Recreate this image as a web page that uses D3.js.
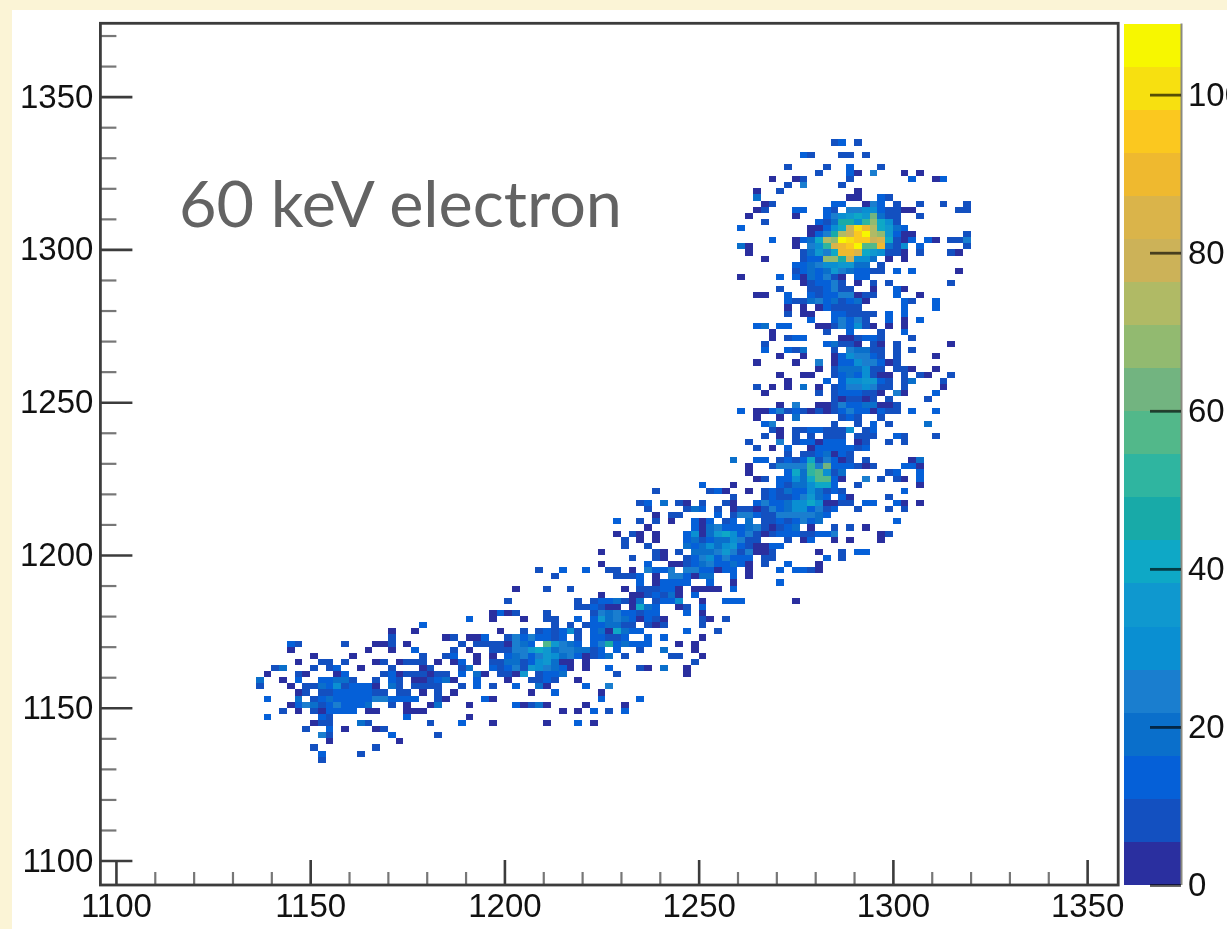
<!DOCTYPE html>
<html>
<head>
<meta charset="utf-8">
<script src="https://cdnjs.cloudflare.com/ajax/libs/d3/7.8.5/d3.min.js"></script>
<style>
html, body { margin: 0; padding: 0; background: #fbf4d6; overflow: hidden; }
#my_dataviz svg { display: block; }
.soft { filter: blur(0.55px); }
.cells rect { shape-rendering: crispEdges; }
.tick text, .label { font-family: "Liberation Sans", sans-serif; }
</style>
</head>
<body>
<div id="my_dataviz"></div>
<script>
// histogram bins, lower edge Y of each row
const rowY = [1334,1330,1326,1324,1322,1320,1318,1316,1314,1312,1310,1308,1306,1304,1302,1300,1298,1296,1294,1292,1290,1288,1286,1284,1282,1280,1278,1276,1274,1272,1270,1268,1266,1264,1262,1260,1258,1256,1254,1252,1250,1248,1246,1244,1242,1240,1238,1236,1234,1232,1230,1228,1226,1224,1222,1220,1218,1216,1214,1212,1210,1208,1206,1204,1202,1200,1198,1196,1194,1192,1190,1188,1186,1184,1182,1180,1178,1176,1174,1172,1170,1168,1166,1164,1162,1160,1158,1156,1154,1152,1150,1148,1146,1144,1142,1140,1138,1136,1134,1132];

// one list per row, read as pairs: lower edge X, counts
const rowCells = [
[1284,8,1286,13,1290,8],
[1276,13,1278,8,1286,8,1288,8,1292,8],
[1272,8,1282,8,1288,13,1296,8],
[1280,8,1288,13,1290,3,1294,24,1302,3,1306,3],
[1268,3,1274,3,1276,8,1288,8,1304,13,1310,3,1312,13],
[1272,8,1276,24,1286,8],
[1264,3,1270,8,1290,3],
[1264,19,1288,3,1290,3,1296,13,1298,8],
[1266,3,1268,8,1284,13,1286,13,1292,3,1294,24,1296,13,1300,8,1306,8,1312,8,1318,8],
[1264,3,1266,8,1274,13,1276,13,1282,13,1284,8,1288,24,1290,24,1292,30,1294,30,1296,13,1298,8,1300,8,1302,3,1304,3,1316,8,1318,8],
[1262,3,1274,3,1282,13,1284,24,1286,30,1288,35,1290,41,1292,35,1294,63,1296,19,1298,8,1300,8,1306,8],
[1266,8,1280,13,1282,8,1284,19,1286,46,1288,46,1290,30,1292,52,1294,68,1296,41,1298,30,1300,8],
[1260,13,1278,3,1280,3,1282,13,1284,30,1286,41,1288,79,1290,101,1292,90,1294,74,1296,41,1298,35,1300,19,1302,13],
[1278,3,1280,13,1282,24,1284,46,1286,74,1288,79,1290,95,1292,106,1294,74,1296,68,1298,35,1300,13,1302,3,1304,3,1318,8],
[1268,13,1274,3,1276,13,1278,19,1280,41,1282,74,1284,68,1286,106,1288,101,1290,95,1292,95,1294,79,1296,85,1298,41,1300,8,1302,3,1304,13,1308,13,1310,3,1314,8,1316,8,1318,24],
[1260,19,1262,3,1274,3,1278,24,1280,30,1282,52,1284,85,1286,90,1288,95,1290,106,1292,57,1294,57,1296,90,1298,19,1300,8,1302,30,1306,13,1318,8],
[1262,3,1276,8,1278,19,1280,35,1282,24,1284,41,1286,90,1288,90,1290,85,1292,41,1294,35,1296,30,1298,8,1300,8,1302,3,1306,8,1314,8,1316,3],
[1266,3,1276,8,1278,13,1280,13,1282,68,1284,68,1286,46,1288,79,1290,30,1292,30,1294,19,1298,3,1302,3],
[1274,13,1276,13,1278,19,1280,24,1282,30,1284,30,1286,35,1288,35,1290,19,1292,19,1296,8],
[1274,8,1276,13,1278,19,1280,13,1282,19,1284,35,1286,24,1288,19,1290,13,1292,13,1294,8,1296,8,1300,13,1304,13,1316,3],
[1260,3,1270,13,1274,13,1276,3,1278,19,1280,13,1282,24,1284,8,1286,3,1290,13,1292,13],
[1276,3,1278,8,1280,13,1282,13,1284,24,1286,8,1290,3,1294,8,1298,8,1314,8],
[1270,8,1278,8,1280,8,1282,13,1284,24,1286,8,1288,8,1294,3,1300,13,1302,3],
[1264,3,1266,3,1272,13,1278,13,1280,8,1282,13,1284,13,1286,24,1288,24,1290,3,1292,8,1294,8,1300,13,1306,3],
[1272,13,1274,8,1276,8,1278,19,1280,24,1282,13,1284,19,1286,8,1288,13,1290,19,1292,3,1302,13,1304,8,1310,13],
[1272,3,1276,3,1280,3,1282,13,1284,8,1286,8,1288,8,1290,8,1302,13,1310,13],
[1272,8,1276,3,1278,3,1284,13,1286,13,1288,8,1290,8,1292,8,1294,8,1298,13,1302,13],
[1278,13,1284,13,1286,24,1288,13,1290,24,1292,8,1298,13,1302,3,1306,13],
[1264,13,1266,19,1270,13,1272,13,1280,3,1282,3,1284,8,1286,24,1288,13,1290,30,1292,8,1294,3,1298,3,1302,3],
[1268,3,1282,8,1288,13,1296,8,1302,13],
[1268,3,1272,8,1274,13,1276,13,1286,3,1288,3,1290,8,1292,13,1294,13,1296,8,1304,8],
[1266,8,1282,13,1284,19,1286,8,1288,8,1290,3,1294,8,1296,3,1300,8,1314,3],
[1266,13,1272,13,1274,8,1276,19,1284,8,1288,24,1290,19,1292,19,1294,8,1296,8,1300,8,1304,8],
[1270,3,1276,3,1284,3,1286,13,1288,30,1290,24,1292,24,1294,13,1296,8,1300,8,1310,3],
[1264,3,1274,3,1280,24,1284,3,1286,13,1288,13,1290,30,1292,24,1294,24,1296,13,1298,3,1300,8],
[1280,3,1284,8,1286,19,1288,19,1290,19,1292,30,1294,8,1296,8,1300,8,1302,8,1304,3,1310,3],
[1270,3,1276,3,1278,3,1284,8,1286,13,1288,19,1290,13,1292,30,1294,8,1296,3,1298,3,1302,8,1306,8,1308,3,1314,8],
[1272,3,1282,13,1286,13,1288,30,1290,30,1292,35,1294,35,1296,13,1298,8,1302,8,1304,19,1312,8],
[1264,8,1268,3,1272,3,1276,19,1280,3,1284,8,1286,13,1288,24,1290,24,1292,30,1294,24,1296,8,1298,8,1302,8,1312,3],
[1266,3,1280,8,1284,8,1286,13,1288,13,1290,13,1292,8,1294,8,1296,3,1300,24,1302,3,1310,13],
[1284,8,1286,3,1288,8,1290,8,1292,3,1294,8,1298,8,1308,8],
[1270,3,1274,24,1280,3,1282,3,1284,8,1286,24,1288,13,1290,13,1292,19,1294,19,1296,3,1298,3,1300,8],
[1260,13,1264,3,1266,3,1268,13,1270,24,1272,8,1274,13,1276,8,1278,3,1280,8,1282,3,1284,8,1286,13,1288,24,1290,13,1292,13,1294,3,1296,13,1298,8,1300,8,1304,13,1310,13],
[1264,3,1270,3,1274,19,1286,8,1288,13,1290,8,1296,8],
[1266,13,1268,24,1284,8,1290,8,1294,13,1298,8,1308,19],
[1268,8,1270,3,1274,8,1276,8,1278,13,1280,13,1282,8,1284,8,1286,8,1288,30,1292,8,1294,13],
[1266,8,1270,3,1274,8,1278,8,1282,8,1284,8,1286,8,1290,8,1292,8,1294,8,1300,13,1302,8,1310,8],
[1262,8,1270,24,1274,8,1276,13,1278,13,1280,3,1282,13,1284,13,1286,13,1290,3,1292,8,1298,8,1302,8],
[1264,8,1268,3,1272,13,1278,3,1280,13,1282,13,1284,13,1286,13,1288,13,1290,8,1292,13],
[1272,8,1276,8,1278,8,1280,13,1282,19,1284,3,1286,13,1288,8],
[1258,19,1264,13,1266,13,1270,8,1272,13,1274,8,1276,13,1278,41,1280,8,1282,24,1284,13,1286,3,1288,8,1292,8,1304,3,1306,19],
[1262,3,1268,8,1270,24,1272,24,1274,24,1276,24,1278,52,1280,24,1282,63,1284,13,1286,13,1288,13,1290,8,1292,3,1294,8,1302,13,1304,13,1306,3],
[1262,3,1272,13,1274,41,1276,19,1278,52,1280,57,1282,30,1284,8,1286,19,1298,8,1300,13,1306,13],
[1264,3,1266,8,1270,13,1272,13,1274,30,1276,19,1278,41,1280,57,1282,57,1284,13,1286,3,1292,24,1296,8,1300,8,1302,3,1306,13],
[1250,13,1258,3,1270,13,1272,8,1274,19,1276,19,1278,30,1280,41,1282,41,1284,13,1290,8,1306,3],
[1238,8,1252,8,1254,13,1256,3,1262,3,1266,8,1268,13,1270,8,1272,19,1274,13,1276,13,1278,30,1280,19,1282,8,1284,13,1286,8,1302,13],
[1258,8,1266,8,1268,13,1270,8,1272,8,1274,13,1276,24,1278,35,1280,19,1282,13,1286,13,1288,3,1298,8],
[1234,8,1236,13,1240,19,1244,8,1246,3,1250,8,1256,8,1258,3,1264,13,1266,24,1268,13,1270,13,1272,19,1274,30,1276,30,1278,41,1280,30,1282,3,1284,3,1286,8,1288,8,1292,13,1294,13,1300,13,1302,3,1306,3],
[1236,8,1246,8,1248,19,1250,13,1254,8,1258,3,1260,8,1262,8,1264,3,1266,8,1268,24,1270,13,1272,19,1274,30,1276,30,1278,13,1280,24,1282,8,1284,13,1290,8,1298,8,1302,8],
[1238,3,1242,8,1244,8,1254,13,1258,8,1260,24,1262,24,1264,13,1266,8,1268,8,1270,24,1272,24,1274,24,1276,24,1278,24,1280,19,1282,13],
[1228,13,1234,8,1238,8,1242,3,1248,13,1250,3,1252,13,1256,8,1258,13,1262,19,1266,8,1268,8,1270,13,1272,8,1274,13,1276,24,1278,13,1280,19,1300,13],
[1236,3,1248,13,1250,3,1252,19,1254,24,1256,13,1258,13,1260,13,1262,19,1264,24,1266,8,1268,3,1270,8,1272,13,1274,19,1278,3,1284,8,1288,8,1292,3],
[1228,3,1232,8,1234,3,1238,3,1246,13,1248,30,1250,3,1252,19,1254,35,1256,41,1258,30,1260,13,1262,24,1264,8,1266,3,1268,8,1270,13,1272,13,1274,13,1276,8,1278,8,1280,13,1282,13,1284,24,1296,3,1298,8],
[1230,8,1234,3,1238,3,1246,13,1248,19,1250,8,1252,13,1254,19,1256,19,1258,30,1260,24,1262,8,1264,8,1272,8,1276,3,1278,13,1284,3,1288,3,1296,3],
[1230,8,1236,8,1246,19,1248,13,1250,19,1252,30,1254,19,1256,30,1258,35,1260,13,1262,8,1264,3,1266,3,1268,13,1270,13],
[1224,3,1238,8,1240,3,1244,8,1248,19,1250,19,1252,19,1254,24,1256,35,1258,24,1260,8,1262,24,1264,3,1266,3,1268,8,1280,3,1286,8,1290,13,1292,13],
[1232,8,1238,8,1240,3,1246,8,1248,13,1250,24,1252,30,1254,13,1256,24,1258,13,1260,13,1262,13,1266,8,1268,8,1282,13,1286,8],
[1224,3,1236,13,1242,3,1244,3,1246,8,1248,13,1250,19,1252,24,1254,13,1256,13,1258,19,1260,13,1262,3,1266,8,1272,13,1280,3],
[1208,8,1214,13,1220,13,1226,8,1228,8,1232,3,1236,24,1238,13,1240,13,1242,24,1246,24,1248,24,1250,13,1252,13,1254,3,1256,13,1258,13,1262,3,1270,13,1274,13,1276,13,1278,8,1280,3],
[1212,8,1228,8,1230,8,1232,8,1234,13,1238,3,1242,24,1244,24,1246,13,1248,3,1250,19,1252,19,1258,13,1262,3],
[1234,13,1238,3,1240,13,1242,13,1244,13,1246,13,1252,13,1258,3,1270,13],
[1202,3,1210,8,1216,8,1230,3,1234,8,1236,8,1238,8,1240,13,1242,13,1244,3,1248,3,1250,3,1252,3,1254,3,1258,13],
[1224,3,1232,3,1234,3,1236,8,1238,13,1240,8,1242,19,1244,3,1248,13],
[1200,8,1218,8,1222,8,1224,13,1226,13,1228,19,1230,8,1232,3,1234,19,1238,8,1240,13,1242,13,1244,30,1250,3,1256,13,1258,13,1260,13,1274,3],
[1218,8,1220,8,1222,13,1224,8,1226,3,1228,3,1232,3,1234,41,1236,19,1238,13,1244,3,1246,8,1250,13],
[1196,3,1198,13,1200,3,1202,8,1210,8,1222,8,1224,24,1226,19,1228,24,1230,13,1232,13,1234,8,1236,13,1238,13,1246,13,1250,3],
[1190,13,1196,3,1204,3,1210,8,1212,8,1218,13,1222,13,1224,35,1226,19,1228,24,1230,19,1232,13,1234,3,1236,13,1238,8,1240,3,1250,8,1252,3,1256,8],
[1178,13,1212,8,1216,8,1220,8,1222,13,1224,13,1226,19,1228,19,1230,8,1232,8,1236,8,1238,3,1240,8,1250,8],
[1170,3,1176,3,1198,3,1204,8,1208,8,1210,13,1212,8,1214,13,1216,30,1218,8,1222,13,1224,19,1226,3,1228,41,1230,19,1232,13,1234,13,1246,13,1254,8],
[1170,8,1184,3,1186,8,1190,3,1192,3,1194,13,1200,8,1202,24,1204,13,1206,24,1208,13,1210,13,1212,8,1214,13,1218,8,1222,13,1224,13,1226,8,1228,8,1230,13,1236,13,1240,13,1250,3],
[1144,13,1146,8,1158,8,1166,3,1168,3,1170,8,1174,3,1188,8,1192,8,1194,8,1196,8,1198,8,1200,3,1202,24,1204,19,1206,13,1210,57,1212,35,1214,24,1216,19,1218,13,1222,13,1224,24,1226,46,1228,13,1230,19,1232,13,1234,13,1236,13,1244,3,1248,3],
[1144,3,1164,3,1170,3,1176,13,1186,8,1190,3,1196,8,1198,8,1200,8,1202,24,1204,24,1206,35,1208,41,1210,35,1212,19,1214,24,1216,24,1218,19,1220,19,1222,8,1224,13,1228,13,1234,8,1240,19,1248,3],
[1150,3,1160,3,1178,8,1184,8,1186,13,1192,3,1196,3,1200,13,1202,19,1204,24,1206,13,1208,24,1210,35,1212,30,1214,19,1216,24,1218,13,1220,3,1222,8,1224,13,1226,19,1230,8,1242,8,1244,8,1250,3],
[1146,3,1152,8,1154,8,1158,8,1166,3,1168,8,1172,3,1174,8,1176,8,1178,8,1182,3,1186,3,1188,13,1192,3,1196,8,1198,8,1200,19,1202,19,1204,8,1206,13,1208,30,1210,35,1212,19,1214,3,1216,3,1220,3,1248,8],
[1140,8,1142,19,1150,8,1154,8,1156,13,1162,3,1170,8,1178,3,1180,8,1188,8,1190,19,1196,13,1198,8,1200,13,1202,24,1204,8,1206,35,1208,30,1210,24,1212,19,1214,13,1216,3,1220,3,1226,13,1234,8,1236,3,1240,19,1246,3],
[1138,3,1146,8,1148,3,1156,3,1158,13,1168,8,1170,13,1172,3,1174,8,1176,8,1178,8,1180,3,1182,8,1184,8,1188,13,1192,19,1194,3,1198,8,1200,8,1202,3,1204,35,1208,8,1210,13,1212,13,1214,19,1228,8,1246,3],
[1136,19,1142,3,1146,13,1152,13,1154,13,1156,19,1158,19,1160,8,1166,8,1170,13,1172,8,1176,3,1178,3,1180,8,1182,13,1184,19,1186,3,1192,13,1200,3,1206,8,1208,8,1210,13,1212,8,1218,3],
[1136,8,1144,3,1148,8,1150,8,1152,19,1154,13,1156,30,1158,8,1160,13,1162,13,1164,13,1166,3,1170,19,1172,8,1176,8,1178,8,1180,8,1182,8,1188,8,1192,13,1196,8,1202,13,1208,19,1210,3,1220,13,1226,24],
[1146,3,1148,8,1152,8,1154,8,1156,13,1158,13,1160,13,1162,13,1164,13,1166,8,1168,8,1172,8,1174,8,1178,3,1182,8,1186,3,1206,3,1212,13,1224,3],
[1138,13,1146,19,1150,8,1152,13,1154,19,1156,13,1158,13,1160,13,1162,13,1164,13,1166,24,1168,24,1170,13,1172,13,1174,13,1176,13,1182,8,1184,3,1194,13,1196,3,1224,13,1234,13],
[1144,3,1146,13,1148,24,1150,19,1152,8,1154,13,1156,24,1158,13,1160,13,1162,13,1164,19,1170,8,1174,3,1180,3,1182,19,1190,3,1202,13,1204,3,1206,8,1208,19,1210,3,1220,3,1230,3],
[1142,8,1146,3,1150,8,1152,3,1154,13,1156,13,1158,13,1160,13,1164,3,1166,3,1174,3,1176,3,1178,3,1214,3,1218,3,1222,13,1226,8,1230,13],
[1138,13,1152,13,1154,8,1174,13,1190,3],
[1150,3,1152,8,1154,8,1162,19,1164,8,1180,8,1188,13,1196,3,1210,3,1218,13,1222,3],
[1148,8,1154,13,1158,3,1166,3,1168,8],
[1152,24,1154,8,1170,13,1182,8],
[1154,3,1172,3],
[1150,8,1166,8],
[1152,13,1162,8],
[1152,8]
];

// colour bands of the palette, bottom to top
const paletteColors = ["#2a2f9f","#1350c0","#0560d8","#0a6fcb","#1a7ecf","#0a8fd2","#0f98cf","#0ea8c6","#18aaa8","#2fb5a0","#52b88a","#72b480","#92ba70","#b0ba65","#ccb258","#dab44a","#efb92f","#fbc81f","#f7e010","#f7f700"];

const xMajorTicks = [1100,1150,1200,1250,1300,1350];
const yMajorTicks = [1100,1150,1200,1250,1300,1350];
const zTicks = [0,20,40,60,80,100];

const binSize = 2;
const zMax = 109;
const tickFont = 33;

const root = d3.select("#my_dataviz")
    .append("svg")
    .attr("width", 1227)
    .attr("height", 929);

// white panel on the cream slide
root.append("rect")
    .attr("x", 12)
    .attr("y", 10)
    .attr("width", 1215)
    .attr("height", 919)
    .style("fill", "#ffffff");

// everything on the slide is a slightly soft screenshot
const svg = root.append("g").attr("class", "soft");

var x = d3.scaleLinear().domain([1096, 1358]).range([100.4, 1118.2]);
var y = d3.scaleLinear().domain([1092, 1374]).range([885, 23.3]);
var z = d3.scaleLinear().domain([0, zMax]).range([885, 23.5]);
var color = d3.scaleQuantize().domain([0, zMax]).range(paletteColors);

// Add cells
let cells = [];
rowY.forEach(function (yBin, i) {
    for (let k = 0; k < rowCells[i].length; k += 2) {
        cells.push({x: rowCells[i][k], y: yBin, value: rowCells[i][k + 1]});
    }
});

svg.append("g")
    .attr("class", "cells")
    .selectAll("rect")
    .data(cells)
    .enter()
    .append("rect")
    .attr("x", function (d) { return x(d.x); })
    .attr("y", function (d) { return y(d.y + binSize); })
    .attr("width", x(binSize) - x(0))
    .attr("height", y(0) - y(binSize))
    .style("fill", function (d) { return color(d.value); });

// Minor ticks
const xMinor = d3.range(1100, 1351, 10).filter(function (v) { return !xMajorTicks.includes(v); });
const yMinor = d3.range(1100, 1371, 10).filter(function (v) { return !yMajorTicks.includes(v); });

svg.append("g")
    .attr("class", "minor")
    .attr("transform", "translate(0,885)")
    .call(d3.axisBottom(x).tickValues(xMinor).tickSizeInner(-13).tickSizeOuter(0).tickFormat(""));
svg.append("g")
    .attr("class", "minor")
    .attr("transform", "translate(100.4,0)")
    .call(d3.axisLeft(y).tickValues(yMinor).tickSizeInner(-16).tickSizeOuter(0).tickFormat(""));

// Major ticks with labels
svg.append("g")
    .attr("class", "major")
    .attr("transform", "translate(0,885)")
    .call(d3.axisBottom(x).tickValues(xMajorTicks).tickSizeInner(-25).tickSizeOuter(0).tickPadding(9).tickFormat(d3.format("d")));
svg.append("g")
    .attr("class", "major")
    .attr("transform", "translate(100.4,0)")
    .call(d3.axisLeft(y).tickValues(yMajorTicks).tickSizeInner(-32).tickSizeOuter(0).tickPadding(7).tickFormat(d3.format("d")));

// Frame
svg.append("rect")
    .attr("x", 100.4)
    .attr("y", 23.3)
    .attr("width", 1017.8)
    .attr("height", 861.7)
    .style("fill", "none")
    .style("stroke", "#3c3c3c")
    .style("stroke-width", 2.8);

// Colour bar
svg.append("g")
    .selectAll("rect")
    .data(paletteColors)
    .enter()
    .append("rect")
    .attr("x", 1124)
    .attr("width", 57)
    .attr("y", function (d) { return z(color.invertExtent(d)[1]); })
    .attr("height", function (d) { return z(color.invertExtent(d)[0]) - z(color.invertExtent(d)[1]); })
    .style("shape-rendering", "crispEdges")
    .style("fill", function (d) { return d; });

svg.append("line")
    .attr("x1", 1181.5)
    .attr("x2", 1181.5)
    .attr("y1", 23.5)
    .attr("y2", 885)
    .style("stroke", "#8a8a80")
    .style("stroke-width", 2);

svg.append("g")
    .attr("class", "zaxis")
    .attr("transform", "translate(1181,0)")
    .call(d3.axisRight(z).tickValues(zTicks).tickSizeInner(-31).tickSizeOuter(0).tickPadding(7).tickFormat(d3.format("d")));

svg.selectAll(".domain").remove();
svg.selectAll(".tick text").style("font-size", tickFont + "px").style("fill", "#111111");
svg.selectAll(".minor .tick line").style("stroke", "#777777").style("stroke-width", 2.2);
svg.selectAll(".major .tick line").style("stroke", "#3c3c3c").style("stroke-width", 2.6);
svg.selectAll(".zaxis .tick line").style("stroke", "#000000").style("stroke-opacity", 0.65).style("stroke-width", 2.8);

// Annotation
svg.append("text")
    .attr("class", "note")
    .attr("x", 179)
    .attr("y", 227)
    .attr("textLength", 443)
    .attr("lengthAdjust", "spacingAndGlyphs")
    .style("font-family", "Lato, sans-serif")
    .style("font-size", "64px")
    .style("fill", "#636363")
    .text("60 keV electron");
</script>
</body>
</html>
